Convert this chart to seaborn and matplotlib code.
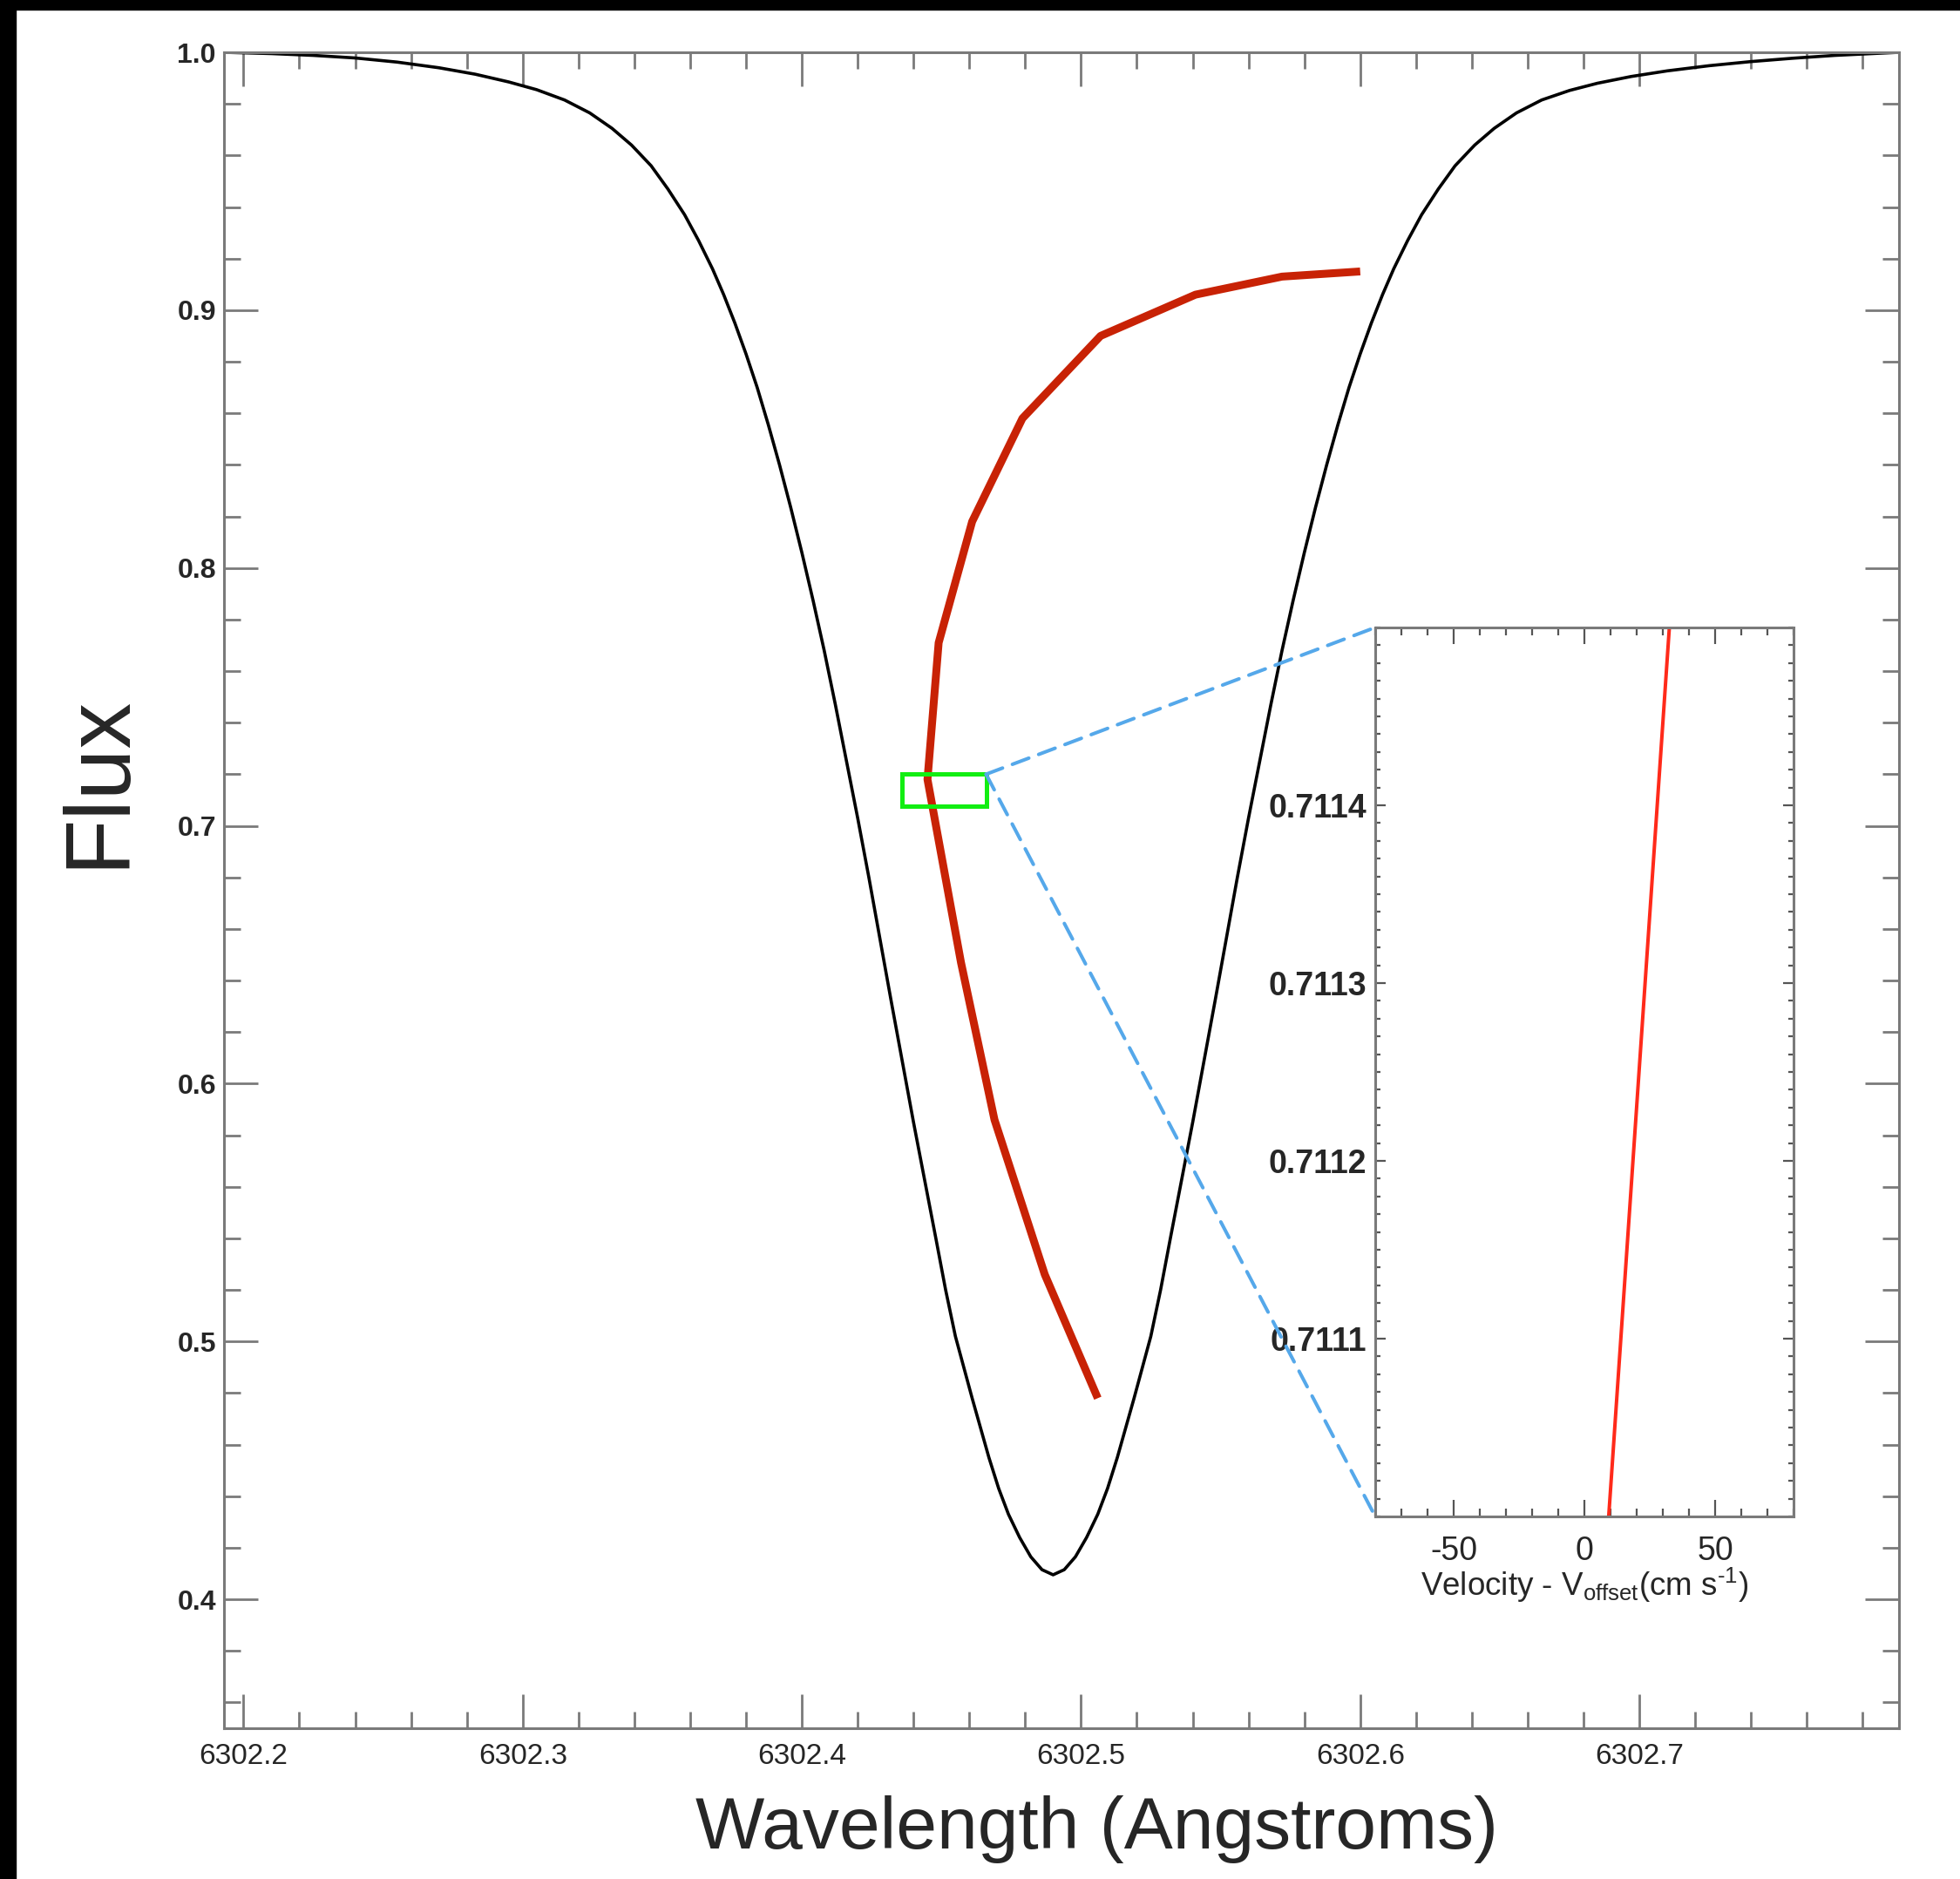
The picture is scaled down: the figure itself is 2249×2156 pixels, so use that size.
import matplotlib
matplotlib.use("Agg")
import matplotlib.pyplot as plt
import seaborn as sns
from matplotlib.patches import Rectangle, ConnectionPatch
from matplotlib.ticker import MultipleLocator, FormatStrFormatter, FixedLocator

# ---- line profile (wavelength in Angstroms, normalised flux) ----
wavelength = [
    6302.193, 6302.210, 6302.225, 6302.240, 6302.255, 6302.270, 6302.283,
    6302.295, 6302.305, 6302.315, 6302.324, 6302.332, 6302.339, 6302.346,
    6302.352, 6302.358, 6302.363, 6302.368, 6302.372, 6302.376, 6302.380,
    6302.384, 6302.388, 6302.392, 6302.396, 6302.400, 6302.404, 6302.408,
    6302.412, 6302.416, 6302.420, 6302.424, 6302.428, 6302.432, 6302.436,
    6302.440, 6302.444, 6302.448, 6302.4515, 6302.455, 6302.458, 6302.461,
    6302.464, 6302.467, 6302.4705, 6302.474, 6302.478, 6302.482, 6302.486,
    6302.490,
    6302.494, 6302.498, 6302.502, 6302.506, 6302.5095, 6302.513, 6302.516,
    6302.519, 6302.522, 6302.525, 6302.5285, 6302.532, 6302.536, 6302.540,
    6302.544, 6302.548, 6302.552, 6302.556, 6302.560, 6302.564, 6302.568,
    6302.572, 6302.576, 6302.580, 6302.584, 6302.588, 6302.592, 6302.596,
    6302.600, 6302.604, 6302.608, 6302.612, 6302.617, 6302.622, 6302.628,
    6302.634, 6302.641, 6302.648, 6302.656, 6302.665, 6302.675, 6302.685,
    6302.697, 6302.710, 6302.725, 6302.740, 6302.755, 6302.770, 6302.793,
]
flux = [
    1.0000, 0.9995, 0.9988, 0.9978, 0.9962, 0.9940, 0.9915,
    0.9885, 0.9855, 0.9815, 0.9765, 0.9705, 0.9640, 0.9560,
    0.9470, 0.9370, 0.9270, 0.9160, 0.9060, 0.8950, 0.8830,
    0.8700, 0.8555, 0.8400, 0.8235, 0.8060, 0.7875, 0.7680,
    0.7470, 0.7250, 0.7030, 0.6800, 0.6560, 0.6320, 0.6085,
    0.5850, 0.5625, 0.5400, 0.5200, 0.5020, 0.4900, 0.4780,
    0.4665, 0.4550, 0.4430, 0.4330, 0.4240, 0.4165, 0.4115,
    0.4095,
    0.4115, 0.4165, 0.4240, 0.4330, 0.4430, 0.4550, 0.4665,
    0.4780, 0.4900, 0.5020, 0.5200, 0.5400, 0.5625, 0.5850,
    0.6085, 0.6320, 0.6560, 0.6800, 0.7030, 0.7250, 0.7470,
    0.7680, 0.7875, 0.8060, 0.8235, 0.8400, 0.8555, 0.8700,
    0.8830, 0.8950, 0.9060, 0.9160, 0.9270, 0.9370, 0.9470,
    0.9560, 0.9640, 0.9705, 0.9765, 0.9815, 0.9852, 0.9880,
    0.9906, 0.9928, 0.9948, 0.9964, 0.9977, 0.9988, 1.0000,
]

# ---- bisector of the line ----
bisector_wl = [6302.600, 6302.572, 6302.541, 6302.507, 6302.479, 6302.461,
               6302.449, 6302.445, 6302.457, 6302.469, 6302.487, 6302.506]
bisector_flux = [0.915, 0.913, 0.906, 0.890, 0.858, 0.818,
                 0.771, 0.718, 0.647, 0.586, 0.526, 0.478]

# ---- zoom box on the bisector ----
box_wl = [6302.436, 6302.466]
box_flux = [0.7077, 0.7200]

# ---- zoomed bisector segment ----
inset_velocity = [9.3, 32.5]
inset_flux = [0.7110, 0.7115]

x_major = [6302.2, 6302.3, 6302.4, 6302.5, 6302.6, 6302.7]
y_major = [0.4, 0.5, 0.6, 0.7, 0.8, 0.9, 1.0]
inset_y_major = [0.7111, 0.7112, 0.7113, 0.7114]

sns.set_style("ticks")
plt.rcParams["font.family"] = ["Liberation Sans", "DejaVu Sans"]
plt.rcParams["mathtext.fontset"] = "custom"
plt.rcParams["mathtext.rm"] = "Liberation Sans"
plt.rcParams["mathtext.it"] = "Liberation Sans:italic"

W, H = 2249, 2156
fig = plt.figure(figsize=(W / 100, H / 100), dpi=100)
fig.patch.set_facecolor("white")

# black frame strips along the top and left edges
fig.patches.append(Rectangle((0, 1 - 11 / H), 1, 11 / H, transform=fig.transFigure,
                             color="black", zorder=0))
fig.patches.append(Rectangle((0, 0), 18 / W, 1, transform=fig.transFigure,
                             color="black", zorder=0))

spine_col = "#7a7a7a"

ax = fig.add_axes([257 / W, 173 / H, 1922 / W, 1923 / H])
sns.lineplot(x=wavelength, y=flux, ax=ax, color="black", lw=2.6,
             sort=False, estimator=None)
sns.lineplot(x=bisector_wl, y=bisector_flux, ax=ax, color="#c82205", lw=6.5,
             sort=False, estimator=None, solid_capstyle="butt")

ax.add_patch(Rectangle((box_wl[0], box_flux[0]), box_wl[1] - box_wl[0],
                       box_flux[1] - box_flux[0], fill=False,
                       edgecolor="#12ee12", lw=3.6, zorder=5))

ax.set_xlim(6302.193, 6302.793)
ax.set_ylim(0.35, 1.0)
ax.xaxis.set_major_locator(FixedLocator(x_major))
ax.xaxis.set_minor_locator(MultipleLocator(0.02))
ax.yaxis.set_major_locator(FixedLocator(y_major))
ax.yaxis.set_minor_locator(MultipleLocator(0.02))
ax.xaxis.set_major_formatter(FormatStrFormatter("%.1f"))
ax.yaxis.set_major_formatter(FormatStrFormatter("%.1f"))
ax.tick_params(which="both", direction="in", top=True, right=True,
               color=spine_col, width=2.0)
ax.tick_params(which="major", length=28)
ax.tick_params(which="minor", length=14)
ax.tick_params(axis="x", which="major", labelsize=24, pad=12)
ax.tick_params(axis="y", which="major", labelsize=23, pad=6.5)
for lab in ax.get_yticklabels():
    lab.set_fontweight("bold")
for sp in ax.spines.values():
    sp.set_color(spine_col)
    sp.set_linewidth(2.2)
ax.set_xlabel("")
ax.set_ylabel("")

fig.text(1259 / W, 35 / H, "Wavelength (Angstroms)", fontsize=60.5,
         ha="center", va="baseline")
fig.text(114 / W, 1 - 896 / H, "Flux", fontsize=76, rotation=90,
         ha="center", va="center")

# ---- inset ----
axins = fig.add_axes([1578 / W, 416 / H, 480 / W, 1020 / H])
sns.lineplot(x=inset_velocity, y=inset_flux, ax=axins, color="#ff2a1a", lw=2.9,
             sort=False, estimator=None)
axins.set_xlim(-80, 80)
axins.set_ylim(0.7110, 0.7115)
axins.xaxis.set_major_locator(MultipleLocator(50))
axins.xaxis.set_minor_locator(MultipleLocator(10))
axins.yaxis.set_major_locator(FixedLocator(inset_y_major))
axins.yaxis.set_minor_locator(MultipleLocator(0.00001))
axins.yaxis.set_major_formatter(FormatStrFormatter("%.4f"))
axins.xaxis.set_major_formatter(FormatStrFormatter("%d"))
axins.tick_params(which="both", direction="in", top=True, right=True,
                  color="#555555", width=1.6)
axins.tick_params(axis="x", which="major", length=13.5, labelsize=27, pad=16)
axins.tick_params(axis="x", which="minor", length=6.5)
axins.tick_params(axis="y", which="major", length=8.5, labelsize=27, pad=7)
axins.tick_params(axis="y", which="minor", length=4)
for lab in axins.get_yticklabels():
    lab.set_fontweight("bold")
for sp in axins.spines.values():
    sp.set_color(spine_col)
    sp.set_linewidth(2.2)
axins.set_xlabel("")
axins.set_ylabel("")
fig.text(1818 / W, 1 - 1831 / H,
         r"Velocity - V$_{\mathrm{offset}}$(cm s$^{\text{-1}}$)",
         fontsize=26.5, ha="center", va="baseline")

# dashed connectors from the box corner to the inset corners
for yb in (1, 0):
    con = ConnectionPatch(xyA=(box_wl[1], box_flux[1]), coordsA=ax.transData,
                          xyB=(0, yb), coordsB=axins.transAxes,
                          color="#55a8ea", lw=2.9, linestyle=(0, (5, 3)),
                          zorder=4)
    fig.add_artist(con)

fig.savefig("out.png", dpi=100)
